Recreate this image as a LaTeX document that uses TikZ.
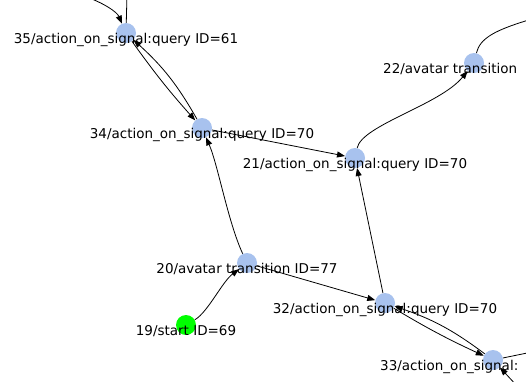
\documentclass[tikz,border=0pt]{standalone}
\usepackage{fontspec}
\setmainfont{DejaVu Sans}
\usetikzlibrary{arrows.meta}
\definecolor{vblue}{RGB}{168,194,238}
\definecolor{vgreen}{RGB}{0,255,0}
\tikzset{
  vertex/.style={circle,fill=vblue,draw=none,minimum size=20pt,inner sep=0pt},
  startv/.style={vertex,fill=vgreen},
  lbl/.style={anchor=base,inner sep=0pt,font=\fontsize{13.5}{16}\selectfont},
  lbll/.style={lbl,anchor=base west},
  edge/.style={line width=0.8pt,-{Triangle[length=8pt,width=6pt]}},
  plain/.style={line width=0.8pt}
}
\begin{document}
\begin{tikzpicture}[x=1pt,y=-1pt]
\useasboundingbox (0,0) rectangle (526,381);
\fill[white] (0,0) rectangle (526,381);
\clip (0,0) rectangle (526,381);
% vertices
\node[vertex] (n35) at (126,33) {};
\node[vertex] (n34) at (202,128) {};
\node[vertex] (n21) at (355,158) {};
\node[vertex] (n22) at (474,63) {};
\node[vertex] (n20) at (247,263) {};
\node[startv] (n19) at (186,325) {};
\node[vertex] (n32) at (385,303) {};
\node[vertex] (n33) at (493,360) {};
% labels
\node[lbl] (l35) at (126,43) {35/action\_on\_signal:query ID=61};
\node[lbl] (l34) at (202,138) {34/action\_on\_signal:query ID=70};
\node[lbl] (l21) at (355,168) {21/action\_on\_signal:query ID=70};
\node[lbll] (l22) at (383,73) {22/avatar transition};
\node[lbl] (l20) at (247,273) {20/avatar transition ID=77};
\node[lbl] (l19) at (186,335) {19/start ID=69};
\node[lbl] (l32) at (385,313) {32/action\_on\_signal:query ID=70};
\node[lbll] (l33) at (380,370) {33/action\_on\_signal:};
% free ends
\coordinate (c35in) at (84,-4);
\coordinate (c35up) at (127,-6);
\coordinate (c22out) at (532,19);
\coordinate (c33out) at (532,352);
\coordinate (c33in) at (518,387);
% edges
\draw[edge] (c35in) .. controls (104,3) and (117,12) .. (n35);
\draw[plain] (n35) -- (c35up);
\draw[edge] (n35) to[bend right=3] (n34);
\draw[edge] (n34) to[bend right=9] (n35);
\draw[edge] (n34) -- (n21);
\draw[edge] (n20) .. controls (228,222) and (218,165) .. (n34);
\draw[edge] (n21) .. controls (362,125) and (440,105) .. (n22);
\draw[plain] (n22) .. controls (480,38) and (495,30) .. (c22out);
\draw[edge] (n32) -- (n21);
\draw[edge] (n20) -- (n32);
\draw[edge] (n19) .. controls (208,312) and (222,282) .. (n20);
\draw[edge] (n32) to[bend right=3] (n33);
\draw[edge] (n33) to[bend right=9] (n32);
\draw[plain] (n33) -- (c33out);
\draw[edge] (c33in) -- (n33);
\end{tikzpicture}
\end{document}
